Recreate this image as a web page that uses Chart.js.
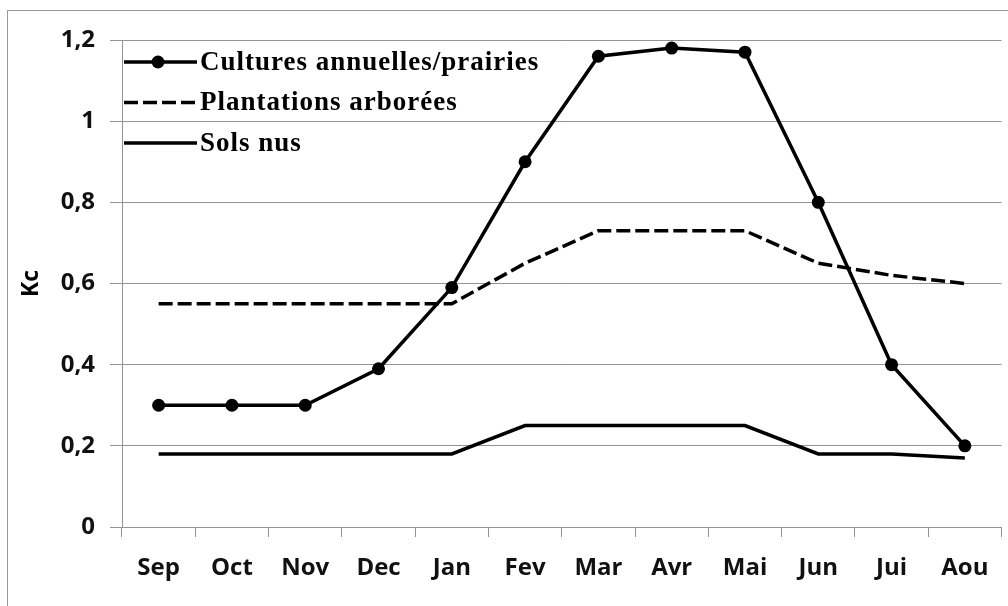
<!DOCTYPE html>
<html>
<head>
<meta charset="utf-8">
<style>
  html, body { margin: 0; padding: 0; background: #fff; }
  #wrap { width: 1008px; height: 606px; position: relative; }
</style>
<script src="https://cdn.jsdelivr.net/npm/chart.js@4.4.1/dist/chart.umd.min.js"></script>
</head>
<body>
<div id="wrap"><canvas id="c" width="1008" height="606"></canvas></div>
<script>
// Monthly crop coefficients (Kc), September to August
const months = ['Sep', 'Oct', 'Nov', 'Dec', 'Jan', 'Fev', 'Mar', 'Avr', 'Mai', 'Jun', 'Jui', 'Aou'];
const culturesAnnuelles = [0.30, 0.30, 0.30, 0.39, 0.59, 0.90, 1.16, 1.18, 1.17, 0.80, 0.40, 0.20];
const plantationsArborees = [0.55, 0.55, 0.55, 0.55, 0.55, 0.65, 0.73, 0.73, 0.73, 0.65, 0.62, 0.60];
const solsNus = [0.18, 0.18, 0.18, 0.18, 0.18, 0.25, 0.25, 0.25, 0.25, 0.18, 0.18, 0.17];
const seriesNames = ['Cultures annuelles/prairies', 'Plantations arborées', 'Sols nus'];

const GRID = '#939393';
const tickFont = { family: '"Open Sans", sans-serif', size: 24, weight: 'bold' };

// Outer frame around the figure
const framePlugin = {
  id: 'frame',
  beforeDraw(chart) {
    const ctx = chart.ctx;
    ctx.save();
    ctx.fillStyle = '#ffffff';
    ctx.fillRect(0, 0, chart.width, chart.height);
    ctx.strokeStyle = '#9a9a9a';
    ctx.lineWidth = 1;
    ctx.strokeRect(7.5, 10.5, chart.width + 20, chart.height + 20);
    ctx.restore();
  }
};

// Legend drawn inside the plot area, top-left, one entry per row
const insideLegend = {
  id: 'insideLegend',
  afterDraw(chart) {
    const ctx = chart.ctx;
    const x0 = 124, sampleLen = 73, textX = 200;
    const y0 = 62, rowGap = 40.5;
    ctx.save();
    ctx.font = 'bold 27px "Liberation Serif", "Times New Roman", serif';
    ctx.letterSpacing = '1px';
    ctx.textBaseline = 'middle';
    chart.data.datasets.forEach((ds, i) => {
      const y = y0 + i * rowGap;
      ctx.strokeStyle = ds.borderColor;
      ctx.lineWidth = ds.borderWidth;
      ctx.setLineDash(ds.borderDash || []);
      ctx.beginPath();
      ctx.moveTo(x0, y);
      ctx.lineTo(x0 + sampleLen, y);
      ctx.stroke();
      ctx.setLineDash([]);
      if (ds.pointRadius > 0) {
        ctx.fillStyle = ds.pointBackgroundColor;
        ctx.beginPath();
        ctx.arc(x0 + 34, y, ds.pointRadius, 0, Math.PI * 2);
        ctx.fill();
      }
      ctx.fillStyle = '#000';
      ctx.fillText(ds.label, textX, y + 1);
    });
    ctx.restore();
  }
};

new Chart(document.getElementById('c'), {
  type: 'line',
  data: {
    labels: months,
    datasets: [
      {
        label: seriesNames[0],
        data: culturesAnnuelles,
        borderColor: '#000',
        borderWidth: 3.5,
        pointRadius: 6.5,
        pointBackgroundColor: '#000',
        pointBorderWidth: 0,
        tension: 0
      },
      {
        label: seriesNames[1],
        data: plantationsArborees,
        borderColor: '#000',
        borderWidth: 3.5,
        borderDash: [14, 5],
        pointRadius: 0,
        tension: 0
      },
      {
        label: seriesNames[2],
        data: solsNus,
        borderColor: '#000',
        borderWidth: 3.5,
        pointRadius: 0,
        tension: 0
      }
    ]
  },
  options: {
    responsive: false,
    animation: false,
    devicePixelRatio: 1,
    layout: { padding: { left: 0, top: 40, right: 2, bottom: 0 } },
    plugins: {
      legend: { display: false },
      tooltip: { enabled: false },
      title: { display: false }
    },
    scales: {
      x: {
        offset: true,
        grid: {
          offset: true,
          drawOnChartArea: false,
          drawTicks: true,
          tickLength: 10,
          color: GRID
        },
        border: { color: GRID, width: 1 },
        ticks: { color: '#111', font: tickFont, padding: 17, maxRotation: 0, autoSkip: false },
        afterFit(scale) { scale.height = 79; }
      },
      y: {
        min: 0,
        max: 1.2,
        ticks: {
          stepSize: 0.2,
          color: '#111',
          font: tickFont,
          padding: 15,
          callback: v => String(Number(v.toFixed(1))).replace('.', ',')
        },
        grid: { color: GRID, tickLength: 12, lineWidth: 1 },
        border: { color: GRID, width: 1 },
        title: {
          display: true,
          text: 'Kc',
          color: '#000',
          font: { family: '"Open Sans", sans-serif', size: 23, weight: 'bold' },
          padding: { top: 18, bottom: 0 }
        },
        afterFit(scale) { scale.width = 122; }
      }
    }
  },
  plugins: [framePlugin, insideLegend]
});
</script>
</body>
</html>
